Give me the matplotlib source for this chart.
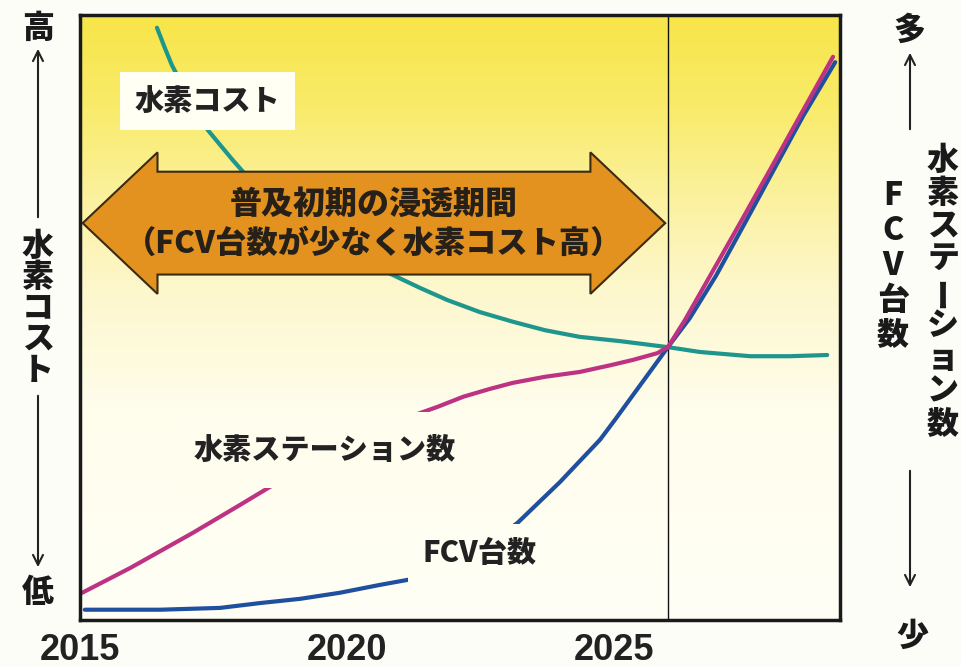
import numpy as np
import matplotlib
matplotlib.use('Agg')
import matplotlib.pyplot as plt
from matplotlib.colors import LinearSegmentedColormap
from matplotlib.patches import Polygon, FancyArrowPatch

plt.rcParams['font.family'] = ['Noto Sans CJK JP', 'DejaVu Sans']

# datos (valores conceptuales)
year_ticks = [2015, 2020, 2025]
milestone = 2026.0

cost_x = [2016.44, 2016.59, 2016.72, 2017.06, 2017.39, 2017.86, 2018.07, 2018.37, 2018.74,
          2019.21, 2019.77, 2020.33, 2020.86, 2021.36, 2021.87, 2022.48, 2023.10, 2023.70,
          2024.35, 2025.10, 2026.00, 2026.60, 2027.54, 2028.28, 2028.98]
cost_y = [97.9, 94.5, 91.7, 86.0, 81.0, 76.0, 73.9, 71.4, 68.3,
          65.1, 61.8, 59.2, 57.0, 54.9, 52.9, 50.9, 49.3, 47.9,
          46.8, 46.1, 45.1, 44.3, 43.6, 43.6, 43.8]

station_x = [2015.04, 2015.94, 2017.11, 2017.99, 2018.93, 2019.68, 2020.43, 2021.17, 2021.68,
             2022.17, 2022.67, 2023.10, 2023.70, 2024.35, 2024.92, 2025.35, 2025.80, 2026.00,
             2026.32, 2026.79, 2027.35, 2027.91, 2028.47, 2029.09]
station_y = [4.5, 8.6, 14.4, 19.0, 24.0, 27.8, 30.9, 33.6, 35.2,
             36.9, 38.2, 39.2, 40.2, 41.0, 42.1, 43.0, 44.1, 45.1,
             49.6, 56.9, 65.6, 74.4, 83.3, 93.1]

fcv_x = [2015.09, 2016.50, 2017.62, 2018.37, 2019.12, 2019.86, 2020.61, 2021.42, 2021.92,
         2022.58, 2023.18, 2023.98, 2024.73, 2025.01, 2025.48, 2026.00, 2026.41, 2026.90,
         2027.44, 2027.98, 2028.53, 2029.13]
fcv_y = [1.7, 1.7, 2.0, 2.8, 3.5, 4.5, 5.8, 7.1, 9.1,
         12.1, 16.0, 22.8, 29.8, 33.1, 38.8, 45.1, 49.9, 56.9,
         65.6, 74.4, 83.3, 92.2]

# periodo inicial (flecha)
period_start, period_end = 2015.05, 2025.95

W, H = 961, 666
fig = plt.figure(figsize=(W / 100, H / 100), dpi=100, facecolor='#fdfdf8')
ax = fig.add_axes([80 / W, 46 / H, 760 / W, 605 / H])
x0, x1 = 2015, 2029.22
ax.set_xlim(x0, x1)
ax.set_ylim(0, 100)

# fondo degradado
bg = LinearSegmentedColormap.from_list('bg', [
    (0.0, '#fffff6'), (0.35, '#fffdec'), (0.55, '#fdf7cc'),
    (0.7, '#fbf19e'), (0.85, '#f9eb6a'), (1.0, '#f7e548')])
ax.imshow(np.linspace(0, 1, 256).reshape(-1, 1), cmap=bg, origin='lower',
          extent=[x0, x1, 0, 100], aspect='auto', zorder=0)

# curvas
ax.plot(cost_x, cost_y, color='#1e968c', lw=3, solid_capstyle='round', zorder=2)
ax.plot(fcv_x, fcv_y, color='#1f4f9f', lw=3, solid_capstyle='round', zorder=2)
ax.plot(station_x, station_y, color='#bd3282', lw=3, solid_capstyle='round', zorder=2.1)
ax.axvline(milestone, color='#111111', lw=1, zorder=1.5)

# flecha doble
L, R = period_start, period_end
head, cy, bh, hh = 1.40, 65.6, 8.5, 11.7
verts = [(L, cy), (L + head, cy + hh), (L + head, cy + bh), (R - head, cy + bh),
         (R - head, cy + hh), (R, cy), (R - head, cy - hh), (R - head, cy - bh),
         (L + head, cy - bh), (L + head, cy - hh)]
ax.add_patch(Polygon(verts, closed=True, fc='#e3921f', ec='#3b2b12', lw=1.5, zorder=4))
ax.text((L + R) / 2, 68.8, '普及初期の浸透期間', ha='center', va='center',
        fontsize=23, fontweight='heavy', color='#262018', zorder=5)
ax.text((L + R) / 2, 62.3, '（FCV台数が少なく水素コスト高）', ha='center', va='center',
        fontsize=22.5, fontweight='heavy', color='#262018', zorder=5)

# etiquetas de las curvas
txt = dict(ha='center', va='center', fontsize=21, fontweight='heavy', color='#222222', zorder=6)
ax.text(2017.38, 85.8, '水素コスト',
        bbox=dict(boxstyle='square,pad=0.5', fc='#fffff4', ec='none'), **txt)
ax.text(2019.58, 28.1, '水素ステーション数',
        bbox=dict(boxstyle='square,pad=0.8', fc='#fffdee', ec='none'), **txt)
ax.text(2022.48, 11.1, 'FCV台数',
        bbox=dict(boxstyle='square,pad=0.5', fc='#fffef2', ec='none'), **txt)

# ejes
for s in ax.spines.values():
    s.set_linewidth(2.5)
    s.set_color('#1a1a1a')
    s.set_zorder(7)
ax.set_yticks([])
ax.set_xticks(year_ticks)
ax.set_xticklabels([str(y) for y in year_ticks],
                   family=['Liberation Sans Narrow', 'Liberation Sans'],
                   fontweight='bold', fontsize=26, color='#222222')
ax.tick_params(axis='x', length=0, pad=9)


# textos laterales (en píxeles de la figura)
def fx(px):
    return px / W


def fy(py):
    return 1 - py / H


side = dict(ha='center', va='center', fontsize=23, fontweight='heavy', color='#1a1a1a')


def vtext(x, y_start, step, chars):
    for i, ch in enumerate(chars):
        rot = 90 if ch == 'ー' else 0
        fig.text(fx(x), fy(y_start + i * step), ch, rotation=rot, **side)


def varrow(x, ya, yb):
    fig.add_artist(FancyArrowPatch((fx(x), fy(ya)), (fx(x), fy(yb)),
                                   transform=fig.transFigure, arrowstyle='->',
                                   mutation_scale=18, lw=1.5, color='#222222'))


fig.text(fx(38), fy(28), '高', **side)
varrow(38, 220, 46)
vtext(38, 246, 31, '水素コスト')
varrow(38, 393, 570)
fig.text(fx(38), fy(592), '低', **side)

fig.text(fx(910), fy(30), '多', **side)
varrow(910, 132, 50)
vtext(943, 160, 33, '水素ステーション数')
vtext(893, 195, 35, 'FCV台数')
varrow(910, 468, 590)
fig.text(fx(912), fy(636), '少', **side)

fig.savefig('out.png', dpi=100, facecolor=fig.get_facecolor())
